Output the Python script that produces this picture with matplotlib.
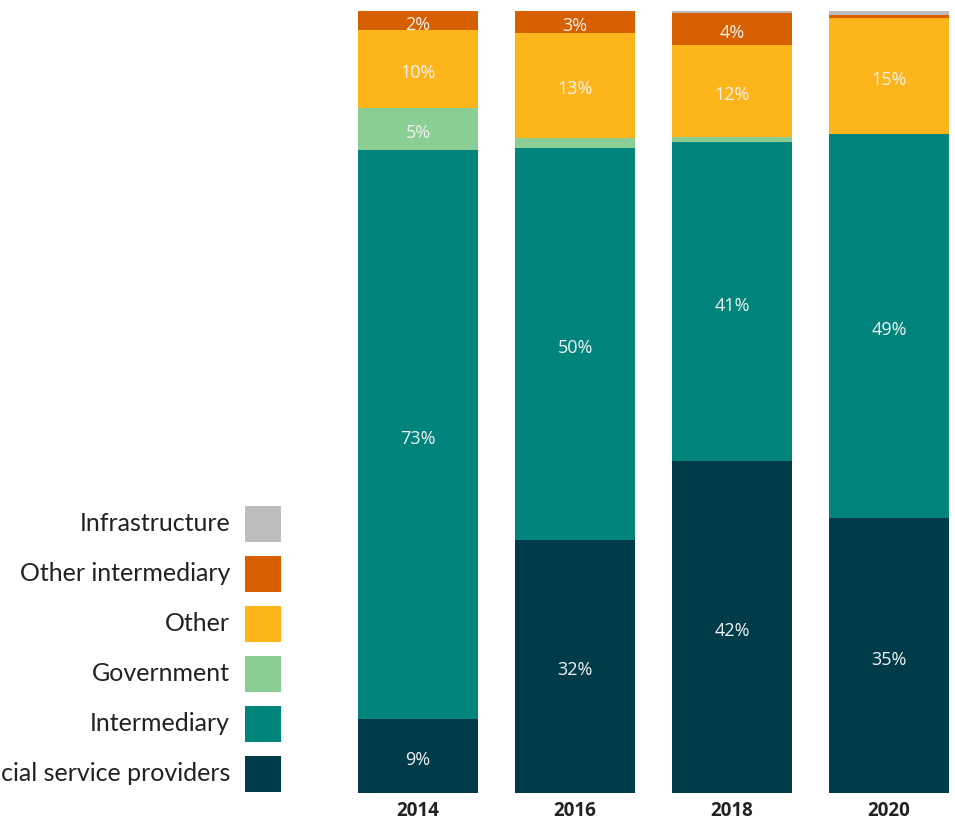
import matplotlib.pyplot as plt
from matplotlib.patches import Rectangle

years = ["2014", "2016", "2018", "2020"]
categories = ["Financial service providers", "Intermediary", "Government",
              "Other", "Other intermediary", "Infrastructure"]
colors = ["#003B4A", "#00847C", "#8ACE94", "#FDB51C", "#D65F00", "#BDBDBD"]

# share of each category per year (%)
fsp = [9.4, 32.4, 42.4, 35.2]
intermediary = [72.8, 50.1, 40.9, 49.1]
government = [5.4, 1.3, 0.6, 0.0]
other = [10.0, 13.4, 11.8, 14.8]
other_intermediary = [2.4, 2.8, 4.0, 0.4]
infrastructure = [0.0, 0.0, 0.3, 0.5]
series = [fsp, intermediary, government, other, other_intermediary, infrastructure]

W, H = 955, 821
fig = plt.figure(figsize=(W / 100, H / 100), dpi=100)

# axes placed in pixel terms: bars 120px wide, 157px apart
left_px, right_px = 339.5, 955
bottom_px, top_px = 793, 11
ax = fig.add_axes([left_px / W, (H - bottom_px) / H,
                   (right_px - left_px) / W, (bottom_px - top_px) / H])
ax.set_xlim(-0.5, -0.5 + (right_px - left_px) / 157)
ax.set_ylim(0, 100)
ax.axis("off")

x = range(len(years))
bottoms = [0.0] * len(years)
for vals, col in zip(series, colors):
    ax.bar(x, vals, bottom=bottoms, width=120 / 157, color=col, linewidth=0)
    for i, v in enumerate(vals):
        if v >= 2:
            ax.annotate(f"{round(v)}%", (i, bottoms[i] + v / 2), xytext=(0, -3),
                        textcoords="offset points", ha="center", va="center",
                        color="#F2F2F2", fontsize=13, family="Open Sans")
    bottoms = [b + v for b, v in zip(bottoms, vals)]

for i, yr in enumerate(years):
    ax.text(i, -2.35, yr, ha="center", va="center", fontsize=13.5,
            fontweight="bold", color="#222222", family="Open Sans")

# legend drawn manually, right-aligned text next to square swatches
for k, (name, col) in enumerate(zip(categories, colors)):
    cy = 773.5 - 50 * k
    fig.patches.append(Rectangle((245 / W, (H - cy - 18) / H), 36 / W, 36 / H,
                                 transform=fig.transFigure, color=col, linewidth=0))
    fig.text(230 / W, (H - cy) / H, name, ha="right", va="center",
             fontsize=18, color="#222222", family="Lato")

fig.savefig("out.png", dpi=100)
